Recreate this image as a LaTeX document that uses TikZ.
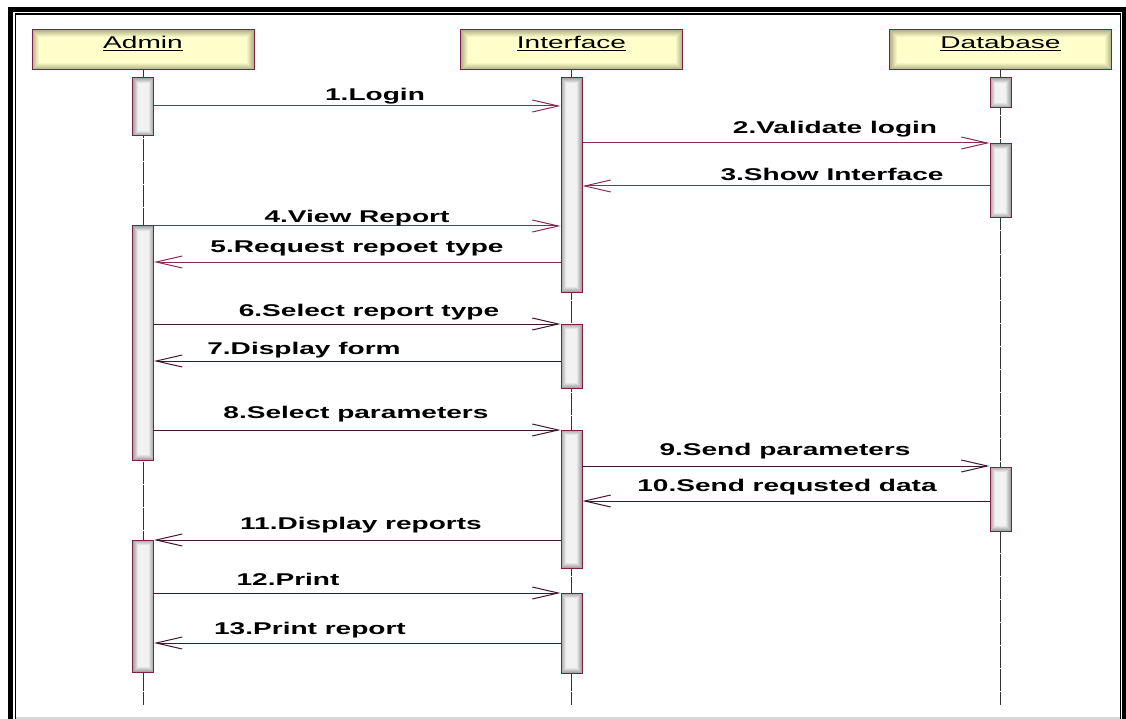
\documentclass[tikz,border=0pt]{standalone}
\usepackage{fontspec}
\setmainfont{Liberation Sans}
\usepackage{graphicx}
\usetikzlibrary{arrows.meta}

\definecolor{edgeMaroon}{HTML}{7F1F45}
\definecolor{headFill}{HTML}{FFFFCC}
\definecolor{headEdge}{HTML}{B4B48A}
\definecolor{barEdge}{HTML}{A6A6A6}
\definecolor{barFill}{HTML}{F2F2F2}
\definecolor{msgLight}{HTML}{8A2B55}
\definecolor{msgDark}{HTML}{3E1830}

% horizontally widened text, as the labels are set
\newcommand\widetext[1]{\scalebox{1.65}[1]{#1}}

\tikzset{
  x=1pt, y=-1pt,
  headglow/.style={path picture={
      \foreach \i in {0,...,7}{
        \pgfmathtruncatemacro\pct{\i*100/7}
        \fill[headFill!\pct!headEdge]
          ([shift={(\i pt,-\i pt)}]path picture bounding box.north west) rectangle
          ([shift={(-\i pt,\i pt)}]path picture bounding box.south east);
      }}},
  barglow/.style={path picture={
      \foreach \i in {0,...,5}{
        \pgfmathtruncatemacro\pct{\i*100/5}
        \fill[barFill!\pct!barEdge]
          ([shift={(\i pt,-\i pt)}]path picture bounding box.north west) rectangle
          ([shift={(-\i pt,\i pt)}]path picture bounding box.south east);
      }}},
  head/.style={draw=edgeMaroon, line width=1pt, minimum width=222pt,
    minimum height=40pt, inner sep=0pt, headglow},
  headlbl/.style={anchor=base, inner sep=0pt, font=\fontsize{17}{20}\selectfont},
  actbar/.style={draw=edgeMaroon, line width=1pt, minimum width=21pt,
    inner sep=0pt, barglow},
  lifeline/.style={draw=black!80, line width=1pt, dash pattern=on 22pt off 1pt},
  msg/.style={draw=msgLight, line width=1pt,
    -{Straight Barb[length=26pt,width=12pt,line width=1pt]}},
  msgd/.style={msg, draw=msgDark},
  lbl/.style={anchor=base, inner sep=0pt,
    font=\bfseries\fontsize{17}{20}\selectfont},
}

\begin{document}
\begin{tikzpicture}
\useasboundingbox (0,0) rectangle (1126,719);
\fill[white] (0,0) rectangle (1126,719);

% double frame
\draw[line width=5pt] (10.5,740) |- (1124,9.5) -- (1124,740);
\draw[line width=1.5pt] (15.3,740) |- (1120.5,14.2) -- (1120.5,740);
\draw[black!15, line width=1.5pt] (16,718) -- (1120,718);

% object headers
\node[head] (admin) at (143,50) {};
\node[head] (iface) at (571.5,50) {};
\node[head] (db) at (1000.5,50) {};
\node[headlbl] (admintxt) at (143,49) {\underline{\widetext{Admin}}};
\node[headlbl] (ifacetxt) at (571.5,49) {\underline{\widetext{Interface}}};
\node[headlbl] (dbtxt) at (1000.5,49) {\underline{\widetext{Database}}};

% lifelines
\coordinate (adminEnd) at (143,705);
\coordinate (ifaceEnd) at (571.5,705);
\coordinate (dbEnd) at (1000.5,705);
\draw[lifeline] (admin.south) -- (adminEnd);
\draw[lifeline] (iface.south) -- (ifaceEnd);
\draw[lifeline] (db.south) -- (dbEnd);

% activation bars
\node[actbar, minimum height=58pt]  (a1) at (143,107) {};
\node[actbar, minimum height=234pt] (a2) at (143,343) {};
\node[actbar, minimum height=132pt] (a3) at (143,606) {};
\node[actbar, minimum height=214pt] (i1) at (571.5,185) {};
\node[actbar, minimum height=64pt]  (i2) at (571.5,356) {};
\node[actbar, minimum height=138pt] (i3) at (571.5,499) {};
\node[actbar, minimum height=80pt]  (i4) at (571.5,633) {};
\node[actbar, minimum height=30pt]  (d1) at (1000.5,93) {};
\node[actbar, minimum height=74pt]  (d2) at (1000.5,181) {};
\node[actbar, minimum height=64pt]  (d3) at (1000.5,499) {};

% messages
\draw[msg]  (a1.east |- 0,106) -- (i1.west |- 0,106);
\draw[msg]  (i1.east |- 0,143) -- (d2.west |- 0,143);
\draw[msg]  (d2.west |- 0,186) -- (i1.east |- 0,186);
\draw[msg]  (a2.east |- 0,226) -- (i1.west |- 0,226);
\draw[msg]  (i1.west |- 0,262) -- (a2.east |- 0,262);
\draw[msgd] (a2.east |- 0,324) -- (i2.west |- 0,324);
\draw[msgd] (i2.west |- 0,361) -- (a2.east |- 0,361);
\draw[msgd] (a2.east |- 0,430) -- (i3.west |- 0,430);
\draw[msgd] (i3.east |- 0,466) -- (d3.west |- 0,466);
\draw[msgd] (d3.west |- 0,501) -- (i3.east |- 0,501);
\draw[msgd] (i3.west |- 0,540) -- (a3.east |- 0,540);
\draw[msgd] (a3.east |- 0,593) -- (i4.west |- 0,593);
\draw[msgd] (i4.west |- 0,643) -- (a3.east |- 0,643);

% message labels
\node[lbl] (m1)  at (375,101) {\widetext{1.Login}};
\node[lbl] (m2)  at (835,134) {\widetext{2.Validate login}};
\node[lbl] (m3)  at (832,181) {\widetext{3.Show Interface}};
\node[lbl] (m4)  at (357,223) {\widetext{4.View Report}};
\node[lbl] (m5)  at (357,252) {\widetext{5.Request repoet type}};
\node[lbl] (m6)  at (369,316) {\widetext{6.Select report type}};
\node[lbl] (m7)  at (304,354) {\widetext{7.Display form}};
\node[lbl] (m8)  at (356,418) {\widetext{8.Select parameters}};
\node[lbl] (m9)  at (785,455) {\widetext{9.Send parameters}};
\node[lbl] (m10) at (787,491) {\widetext{10.Send requsted data}};
\node[lbl] (m11) at (361,529) {\widetext{11.Display reports}};
\node[lbl] (m12) at (288,585) {\widetext{12.Print}};
\node[lbl] (m13) at (310,634) {\widetext{13.Print report}};
\end{tikzpicture}
\end{document}
